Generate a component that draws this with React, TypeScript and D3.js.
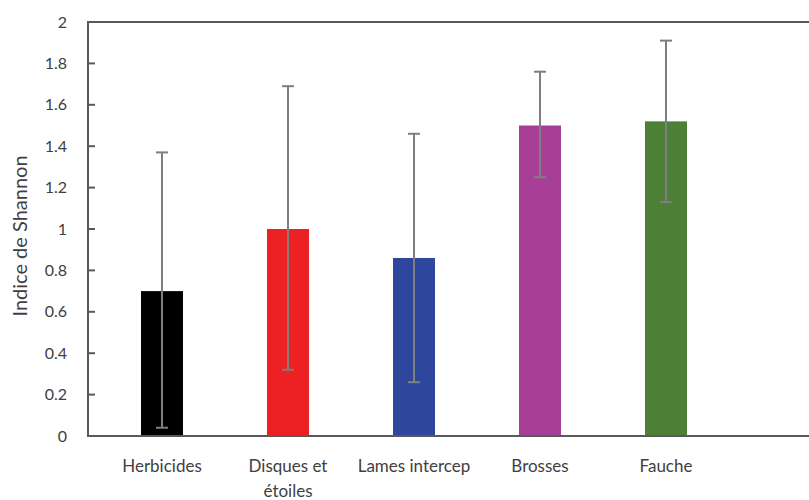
import * as React from "react";
import * as d3 from "d3";

const categories = ["Herbicides", "Disques et étoiles", "Lames intercep", "Brosses", "Fauche"];
const values = [0.7, 1.0, 0.86, 1.5, 1.52];
const errLow = [0.04, 0.32, 0.26, 1.25, 1.13];
const errHigh = [1.37, 1.69, 1.46, 1.76, 1.91];
const colors = ["#000000", "#ED2024", "#2E479C", "#A63F95", "#4E7F37"];
const yTickValues = [0, 0.2, 0.4, 0.6, 0.8, 1, 1.2, 1.4, 1.6, 1.8, 2];

const W = 809;
const H = 500;
const PLOT = { left: 88, top: 22, bottom: 436, right: 809 };
const BAR_W = 42;
const FONT = "Lato, 'Open Sans', sans-serif";

export default function App() {
  const x = d3.scalePoint<string>().domain(categories).range([162, 666]);
  const y = d3.scaleLinear().domain([0, 2]).range([PLOT.bottom, PLOT.top]);

  return (
    <svg
      width={W}
      height={H}
      style={{ position: "absolute", left: 0, top: 0, background: "#fff" }}
    >
      {/* bars */}
      {categories.map((c, i) => (
        <rect
          key={`bar-${c}`}
          x={x(c)! - BAR_W / 2}
          y={y(values[i])}
          width={BAR_W}
          height={y(0) - y(values[i])}
          fill={colors[i]}
        />
      ))}

      {/* error bars */}
      {categories.map((c, i) => {
        const cx = x(c)!;
        return (
          <g key={`err-${c}`} stroke="#7f7f7f" strokeWidth={2}>
            <line x1={cx} x2={cx} y1={y(errLow[i])} y2={y(errHigh[i])} />
            <line x1={cx - 6} x2={cx + 6} y1={y(errHigh[i])} y2={y(errHigh[i])} />
            <line x1={cx - 6} x2={cx + 6} y1={y(errLow[i])} y2={y(errLow[i])} />
          </g>
        );
      })}

      {/* frame: left axis, top border, bottom axis */}
      <g stroke="#595959" strokeWidth={2} fill="none">
        <line x1={PLOT.left} x2={PLOT.left} y1={PLOT.top} y2={PLOT.bottom} />
        <line x1={PLOT.left - 1} x2={PLOT.right} y1={PLOT.top} y2={PLOT.top} />
        <line x1={PLOT.left - 1} x2={PLOT.right} y1={PLOT.bottom} y2={PLOT.bottom} />
      </g>

      {/* y ticks + labels */}
      {yTickValues.map((t) => (
        <g key={`yt-${t}`}>
          {t > 0 && t < 2 && (
            <line
              x1={PLOT.left}
              x2={PLOT.left + 7}
              y1={y(t)}
              y2={y(t)}
              stroke="#595959"
              strokeWidth={2}
            />
          )}
          <text
            x={67}
            y={y(t)}
            dy="0.35em"
            textAnchor="end"
            fontFamily={FONT}
            fontSize={16}
            fill="#404040"
          >
            {String(t)}
          </text>
        </g>
      ))}

      {/* x labels */}
      {categories.map((c) => {
        const cx = x(c)!;
        const lines = c === "Disques et étoiles" ? ["Disques et", "étoiles"] : [c];
        return (
          <text
            key={`xl-${c}`}
            x={cx}
            y={472}
            textAnchor="middle"
            fontFamily={FONT}
            fontSize={17}
            fill="#404040"
          >
            {lines.map((l, j) => (
              <tspan key={l} x={cx} dy={j === 0 ? 0 : 25}>
                {l}
              </tspan>
            ))}
          </text>
        );
      })}

      {/* y title */}
      <text
        transform="translate(27,236) rotate(-90)"
        textAnchor="middle"
        fontFamily={FONT}
        fontSize={20}
        fill="#404040"
      >
        Indice de Shannon
      </text>
    </svg>
  );
}
